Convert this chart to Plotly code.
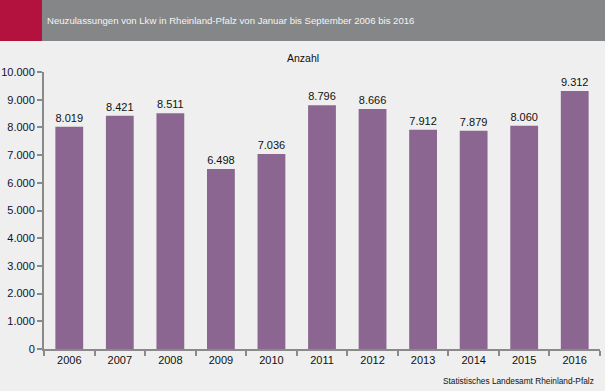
import plotly.graph_objects as go

years = ["2006", "2007", "2008", "2009", "2010", "2011", "2012", "2013", "2014", "2015", "2016"]
values = [8019, 8421, 8511, 6498, 7036, 8796, 8666, 7912, 7879, 8060, 9312]
y_ticks = [0, 1000, 2000, 3000, 4000, 5000, 6000, 7000, 8000, 9000, 10000]

title_text = "Neuzulassungen von Lkw in Rheinland-Pfalz von Januar bis September 2006 bis 2016"
unit_text = "Anzahl"
source_text = "Statistisches Landesamt Rheinland-Pfalz"

bg = "#EEEFEE"
bar_color = "#8B6690"
font_family = "Liberation Sans, Arial, sans-serif"

fig = go.Figure()
fig.add_trace(go.Bar(
    x=years, y=values,
    marker=dict(color=bar_color, line=dict(width=0)),
    text=values,
    texttemplate="%{y:,}",
    textposition="outside",
    textfont=dict(size=11, color="#111111", family=font_family),
    cliponaxis=False,
    hoverinfo="x+y",
))

fig.update_layout(
    width=605, height=391,
    paper_bgcolor=bg, plot_bgcolor=bg,
    margin=dict(l=44, r=5, t=72, b=42, autoexpand=False),
    separators=",.",
    bargap=0.45,
    showlegend=False,
    font=dict(family=font_family, size=11, color="#111111"),
    xaxis=dict(
        type="category", automargin=False,
        showline=True, linecolor="#8A8A8A", linewidth=2,
        ticks="outside", tickson="boundaries", ticklen=5, tickwidth=2, tickcolor="#8A8A8A",
        tickfont=dict(size=11, color="#111111"),
        showgrid=False, zeroline=False,
    ),
    yaxis=dict(
        range=[0, 10000], automargin=False,
        tickvals=y_ticks,
        tickformat=",d",
        showline=True, linecolor="#8A8A8A", linewidth=2,
        ticks="outside", ticklen=5, tickwidth=2, tickcolor="#8A8A8A",
        tickfont=dict(size=11, color="#111133"),
        showgrid=False, zeroline=False,
    ),
    shapes=[
        dict(type="rect", xref="paper", yref="paper",
             x0=-44/556, x1=(605-44)/556, y0=(349-41)/277, y1=(349)/277,
             fillcolor="#858687", line=dict(width=0), layer="below"),
        dict(type="rect", xref="paper", yref="paper",
             x0=-44/556, x1=-2/556, y0=(349-41)/277, y1=(349)/277,
             fillcolor="#B3123E", line=dict(width=0), layer="below"),
    ],
    annotations=[
        dict(text=title_text, xref="paper", yref="paper",
             x=1/556, y=(349-20)/277, xanchor="left", yanchor="middle",
             showarrow=False, font=dict(size=9.6, color="#F4F4F4", family=font_family)),
        dict(text=unit_text, xref="paper", yref="paper",
             x=(303-44)/556, y=(349-58)/277, xanchor="center", yanchor="middle",
             showarrow=False, font=dict(size=10.5, color="#111111", family=font_family)),
        dict(text=source_text, xref="paper", yref="paper",
             x=(596-44)/556, y=-(381-349)/277, xanchor="right", yanchor="middle",
             showarrow=False, font=dict(size=8.3, color="#111111", family=font_family)),
    ],
)

fig.write_html(
    "out.html",
    config={"displayModeBar": False},
    post_script="document.body.style.margin='0';document.body.style.overflow='hidden';",
)
